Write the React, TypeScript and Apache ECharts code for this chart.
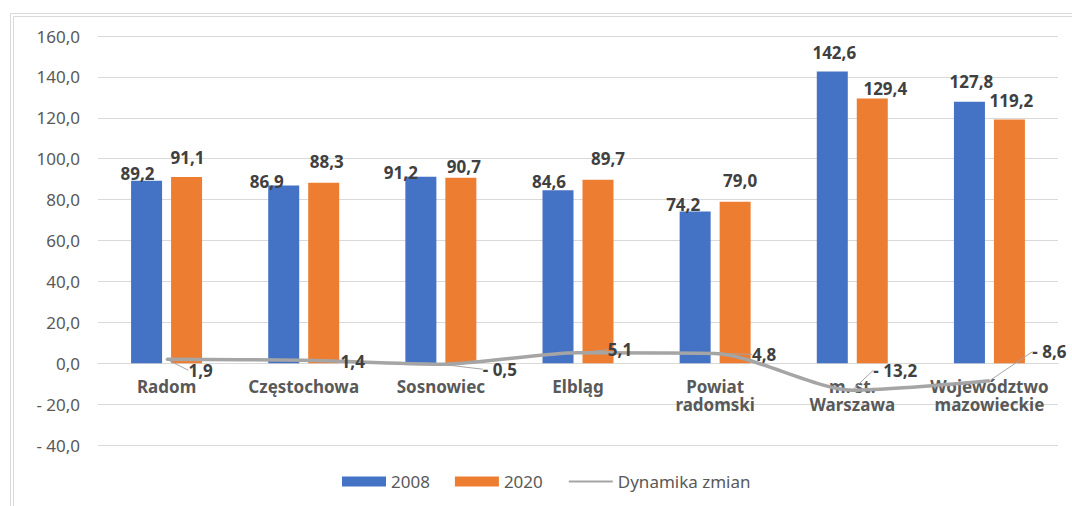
import React, { useEffect, useRef } from 'react';
import * as echarts from 'echarts';

const categories = [
  'Radom',
  'Częstochowa',
  'Sosnowiec',
  'Elbląg',
  'Powiat\nradomski',
  'm. st.\nWarszawa',
  'Województwo\nmazowieckie',
];
const values2008 = [89.2, 86.9, 91.2, 84.6, 74.2, 142.6, 127.8];
const values2020 = [91.1, 88.3, 90.7, 89.7, 79.0, 129.4, 119.2];
const dynamics = [1.9, 1.4, -0.5, 5.1, 4.8, -13.2, -8.6];
const seriesNames = ['2008', '2020', 'Dynamika zmian'];
const yMin = -40;
const yMax = 160;
const yInterval = 20;

// label placement tweaks (styles, not data)
const label2008Offsets = [[-9, 6], [-17, 10], [-20, 9], [-9, 5], [-12, 7], [2, -6], [2, -7]];
const label2020Offsets = [[1, -6], [3, -8], [3, 2], [10, -8], [5, -8], [13, 3], [2, -5]];
const dynOffsets = [[34, 11], [49, 1], [59, 5], [42, -3], [49, 1], [43, -20], [60, -29]];

const fmt = (v: number) => (v < 0 ? '- ' : '') + Math.abs(v).toFixed(1).replace('.', ',');

const FONT = 'Noto Sans';

export default function App() {
  const ref = useRef<HTMLDivElement>(null);
  useEffect(() => {
    if (!ref.current) return;
    const chart = echarts.init(ref.current, undefined, { renderer: 'svg' });
    const barLabel = {
      show: true,
      position: 'top',
      fontFamily: FONT,
      fontSize: 17,
      fontWeight: 'bold',
      color: '#404040',
      formatter: (p: any) => fmt(p.value),
    };
    chart.setOption({
      animation: false,
      backgroundColor: '#ffffff',
      textStyle: { fontFamily: FONT },
      graphic: [
        {
          type: 'rect',
          shape: { x: 10.5, y: 13.5, width: 1200, height: 700 },
          style: { fill: 'none', stroke: '#d9d9d9', lineWidth: 1 },
          silent: true,
        },
        {
          type: 'rect',
          shape: { x: 13.5, y: 16.5, width: 1200, height: 700 },
          style: { fill: 'none', stroke: '#d9d9d9', lineWidth: 1 },
          silent: true,
        },
      ],
      grid: { left: 98, right: 14, top: 36, bottom: 61, containLabel: false },
      legend: {
        left: 342,
        top: 473,
        padding: 0,
        itemWidth: 44,
        itemHeight: 10,
        itemGap: 25,
        textStyle: { fontFamily: FONT, fontSize: 17, color: '#595959' },
        data: [
          { name: seriesNames[0], icon: 'rect' },
          { name: seriesNames[1], icon: 'rect' },
          { name: seriesNames[2], itemStyle: { opacity: 0 } },
        ],
      },
      xAxis: {
        type: 'category',
        data: categories,
        axisLine: { show: true, onZero: true, lineStyle: { color: '#d9d9d9', width: 1 } },
        axisTick: { show: false },
        axisLabel: {
          interval: 0,
          margin: -68,
          fontFamily: FONT,
          fontSize: 17,
          fontWeight: 'bold',
          color: '#595959',
          lineHeight: 18,
        },
      },
      yAxis: {
        type: 'value',
        min: yMin,
        max: yMax,
        interval: yInterval,
        axisLine: { show: false },
        axisTick: { show: false },
        axisLabel: {
          margin: 18,
          fontFamily: FONT,
          fontSize: 17,
          color: '#595959',
          formatter: (v: number) => fmt(v),
        },
        splitLine: { lineStyle: { color: '#d9d9d9', width: 1 } },
      },
      series: [
        {
          name: seriesNames[0],
          type: 'bar',
          barWidth: 31,
          barGap: '29%',
          itemStyle: { color: '#4472C4' },
          label: barLabel,
          data: values2008.map((v, i) => ({ value: v, label: { offset: label2008Offsets[i] } })),
        },
        {
          name: seriesNames[1],
          type: 'bar',
          barWidth: 31,
          barGap: '29%',
          itemStyle: { color: '#ED7D31' },
          label: barLabel,
          data: values2020.map((v, i) => ({ value: v, label: { offset: label2020Offsets[i] } })),
        },
        {
          name: seriesNames[2],
          type: 'line',
          smooth: 0.25,
          symbol: 'circle',
          symbolSize: 2,
          itemStyle: { color: '#A5A5A5' },
          lineStyle: { color: '#A5A5A5', width: 3.5 },
          z: 5,
          label: {
            show: true,
            position: 'inside',
            fontFamily: FONT,
            fontSize: 17,
            fontWeight: 'bold',
            color: '#404040',
            formatter: (p: any) => fmt(p.value),
          },
          labelLine: { show: true, lineStyle: { color: '#a5a5a5', width: 1 } },
          labelLayout: (p: any) => {
            const o = dynOffsets[p.dataIndex];
            return { dx: o[0], dy: o[1] };
          },
          data: dynamics,
        },
      ],
    });
    return () => chart.dispose();
  }, []);
  return (
    <div
      ref={ref}
      style={{ position: 'absolute', left: 0, top: 0, width: 1072, height: 506 }}
    />
  );
}
